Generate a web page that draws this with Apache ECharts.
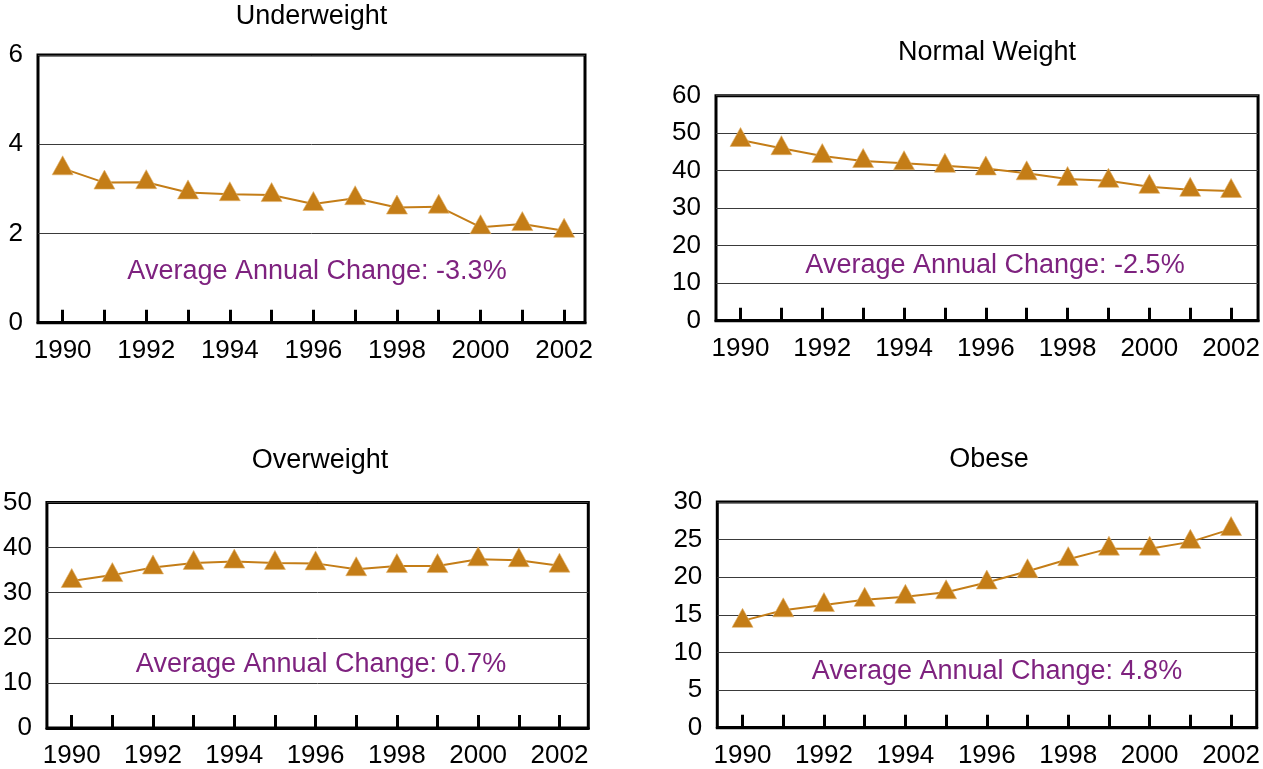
<!DOCTYPE html>
<html>
<head>
<meta charset="utf-8">
<title>Weight categories 1990–2002</title>
<script src="https://cdn.jsdelivr.net/npm/echarts@6/dist/echarts.min.js"></script>
<style>
  html, body { margin: 0; padding: 0; background: #fff; }
  #chart { width: 1263px; height: 769px; }
</style>
</head>
<body>
<div id="chart"></div>
<script>
// Survey years and the share (%) of people in each weight category
const years = [1990, 1991, 1992, 1993, 1994, 1995, 1996, 1997, 1998, 1999, 2000, 2001, 2002];
const yearLabels = [1990, 1992, 1994, 1996, 1998, 2000, 2002];

const underweight  = [3.46, 3.14, 3.15, 2.92, 2.88, 2.86, 2.66, 2.79, 2.58, 2.60, 2.14, 2.21, 2.06];
const normalWeight = [48.2, 46.0, 43.9, 42.6, 42.0, 41.3, 40.6, 39.3, 37.8, 37.3, 35.7, 34.9, 34.6];
const overweight   = [32.6, 33.9, 35.6, 36.6, 36.9, 36.6, 36.5, 35.2, 35.9, 35.9, 37.4, 37.2, 36.0];
const obese        = [14.2, 15.6, 16.3, 17.0, 17.4, 18.0, 19.3, 20.8, 22.4, 23.8, 23.8, 24.7, 26.4];

const panelTitles = ['Underweight', 'Normal Weight', 'Overweight', 'Obese'];
const annualChange = ['-3.3%', '-2.5%', '0.7%', '4.8%'];
const yMax = [6, 60, 50, 30];
const yStep = [2, 10, 10, 5];

const FONT = '"Liberation Sans", Arial, Helvetica, sans-serif';
const LINE_COLOR = '#C47D17';
const NOTE_COLOR = '#7E227F';

// Layout of the four plot boxes (pixels) and the x extent around the years
const panels = [
  { grid: { left: 38,    top: 55,    right: 678,   bottom: 446.3 }, xMin: 1989.41, xMax: 2002.5,
    title: [311.5, 17], note: [317, 272] },
  { grid: { left: 716,   top: 95.7,  right: 2.5,   bottom: 448.3 }, xMin: 1989.4,  xMax: 2002.66,
    title: [987, 53],   note: [995, 266] },
  { grid: { left: 41.7,  top: 502.5, right: 674.7, bottom: 40.7 },  xMin: 1989.39, xMax: 2002.71,
    title: [320, 461],  note: [321, 665] },
  { grid: { left: 717.3, top: 502,   right: 2,     bottom: 41.3 },  xMin: 1989.38, xMax: 2002.63,
    title: [989, 460],  note: [997, 672] }
];
const seriesValues = [underweight, normalWeight, overweight, obese];

const option = {
  animation: false,
  backgroundColor: '#fff',
  grid: [], xAxis: [], yAxis: [], series: [], graphic: []
};

panels.forEach((p, i) => {
  option.grid.push(Object.assign({
    show: true, borderColor: '#000', borderWidth: 3, backgroundColor: 'transparent'
  }, p.grid));

  option.xAxis.push({
    type: 'value', gridIndex: i, min: p.xMin, max: p.xMax,
    axisLine: { show: true, lineStyle: { color: '#000', width: 3 } },
    axisTick: { show: true, inside: true, length: 13, customValues: years,
                lineStyle: { color: '#000', width: 3 } },
    axisLabel: { show: true, customValues: yearLabels, margin: 15,
                 formatter: v => String(v), color: '#000', fontSize: 26, fontFamily: FONT },
    splitLine: { show: false }
  });

  option.yAxis.push({
    type: 'value', gridIndex: i, min: 0, max: yMax[i], interval: yStep[i],
    axisLine: { show: false }, axisTick: { show: false },
    axisLabel: { color: '#000', fontSize: 26, fontFamily: FONT, margin: 15 },
    splitLine: { show: true, lineStyle: { color: '#3a3a3a', width: 1 } }
  });

  option.series.push({
    type: 'line', xAxisIndex: i, yAxisIndex: i,
    data: years.map((y, k) => [y, seriesValues[i][k]]),
    symbol: 'triangle', symbolSize: [21, 19], symbolOffset: [0, -3],
    lineStyle: { color: LINE_COLOR, width: 2 },
    itemStyle: { color: LINE_COLOR, borderColor: '#E2B26A', borderWidth: 0.6 },
    z: 5
  });

  option.graphic.push({
    type: 'text', x: p.title[0], y: p.title[1], silent: true,
    style: { text: panelTitles[i], fill: '#000', font: '27px ' + FONT,
             textAlign: 'center', textVerticalAlign: 'middle' }
  });
  option.graphic.push({
    type: 'text', x: p.note[0], y: p.note[1], silent: true, z: 10,
    style: { text: 'Average Annual Change: ' + annualChange[i], fill: NOTE_COLOR,
             font: '27px ' + FONT, textAlign: 'center', textVerticalAlign: 'middle' }
  });
});

const chart = echarts.init(document.getElementById('chart'), null, { renderer: 'canvas' });
chart.setOption(option);
</script>
</body>
</html>
